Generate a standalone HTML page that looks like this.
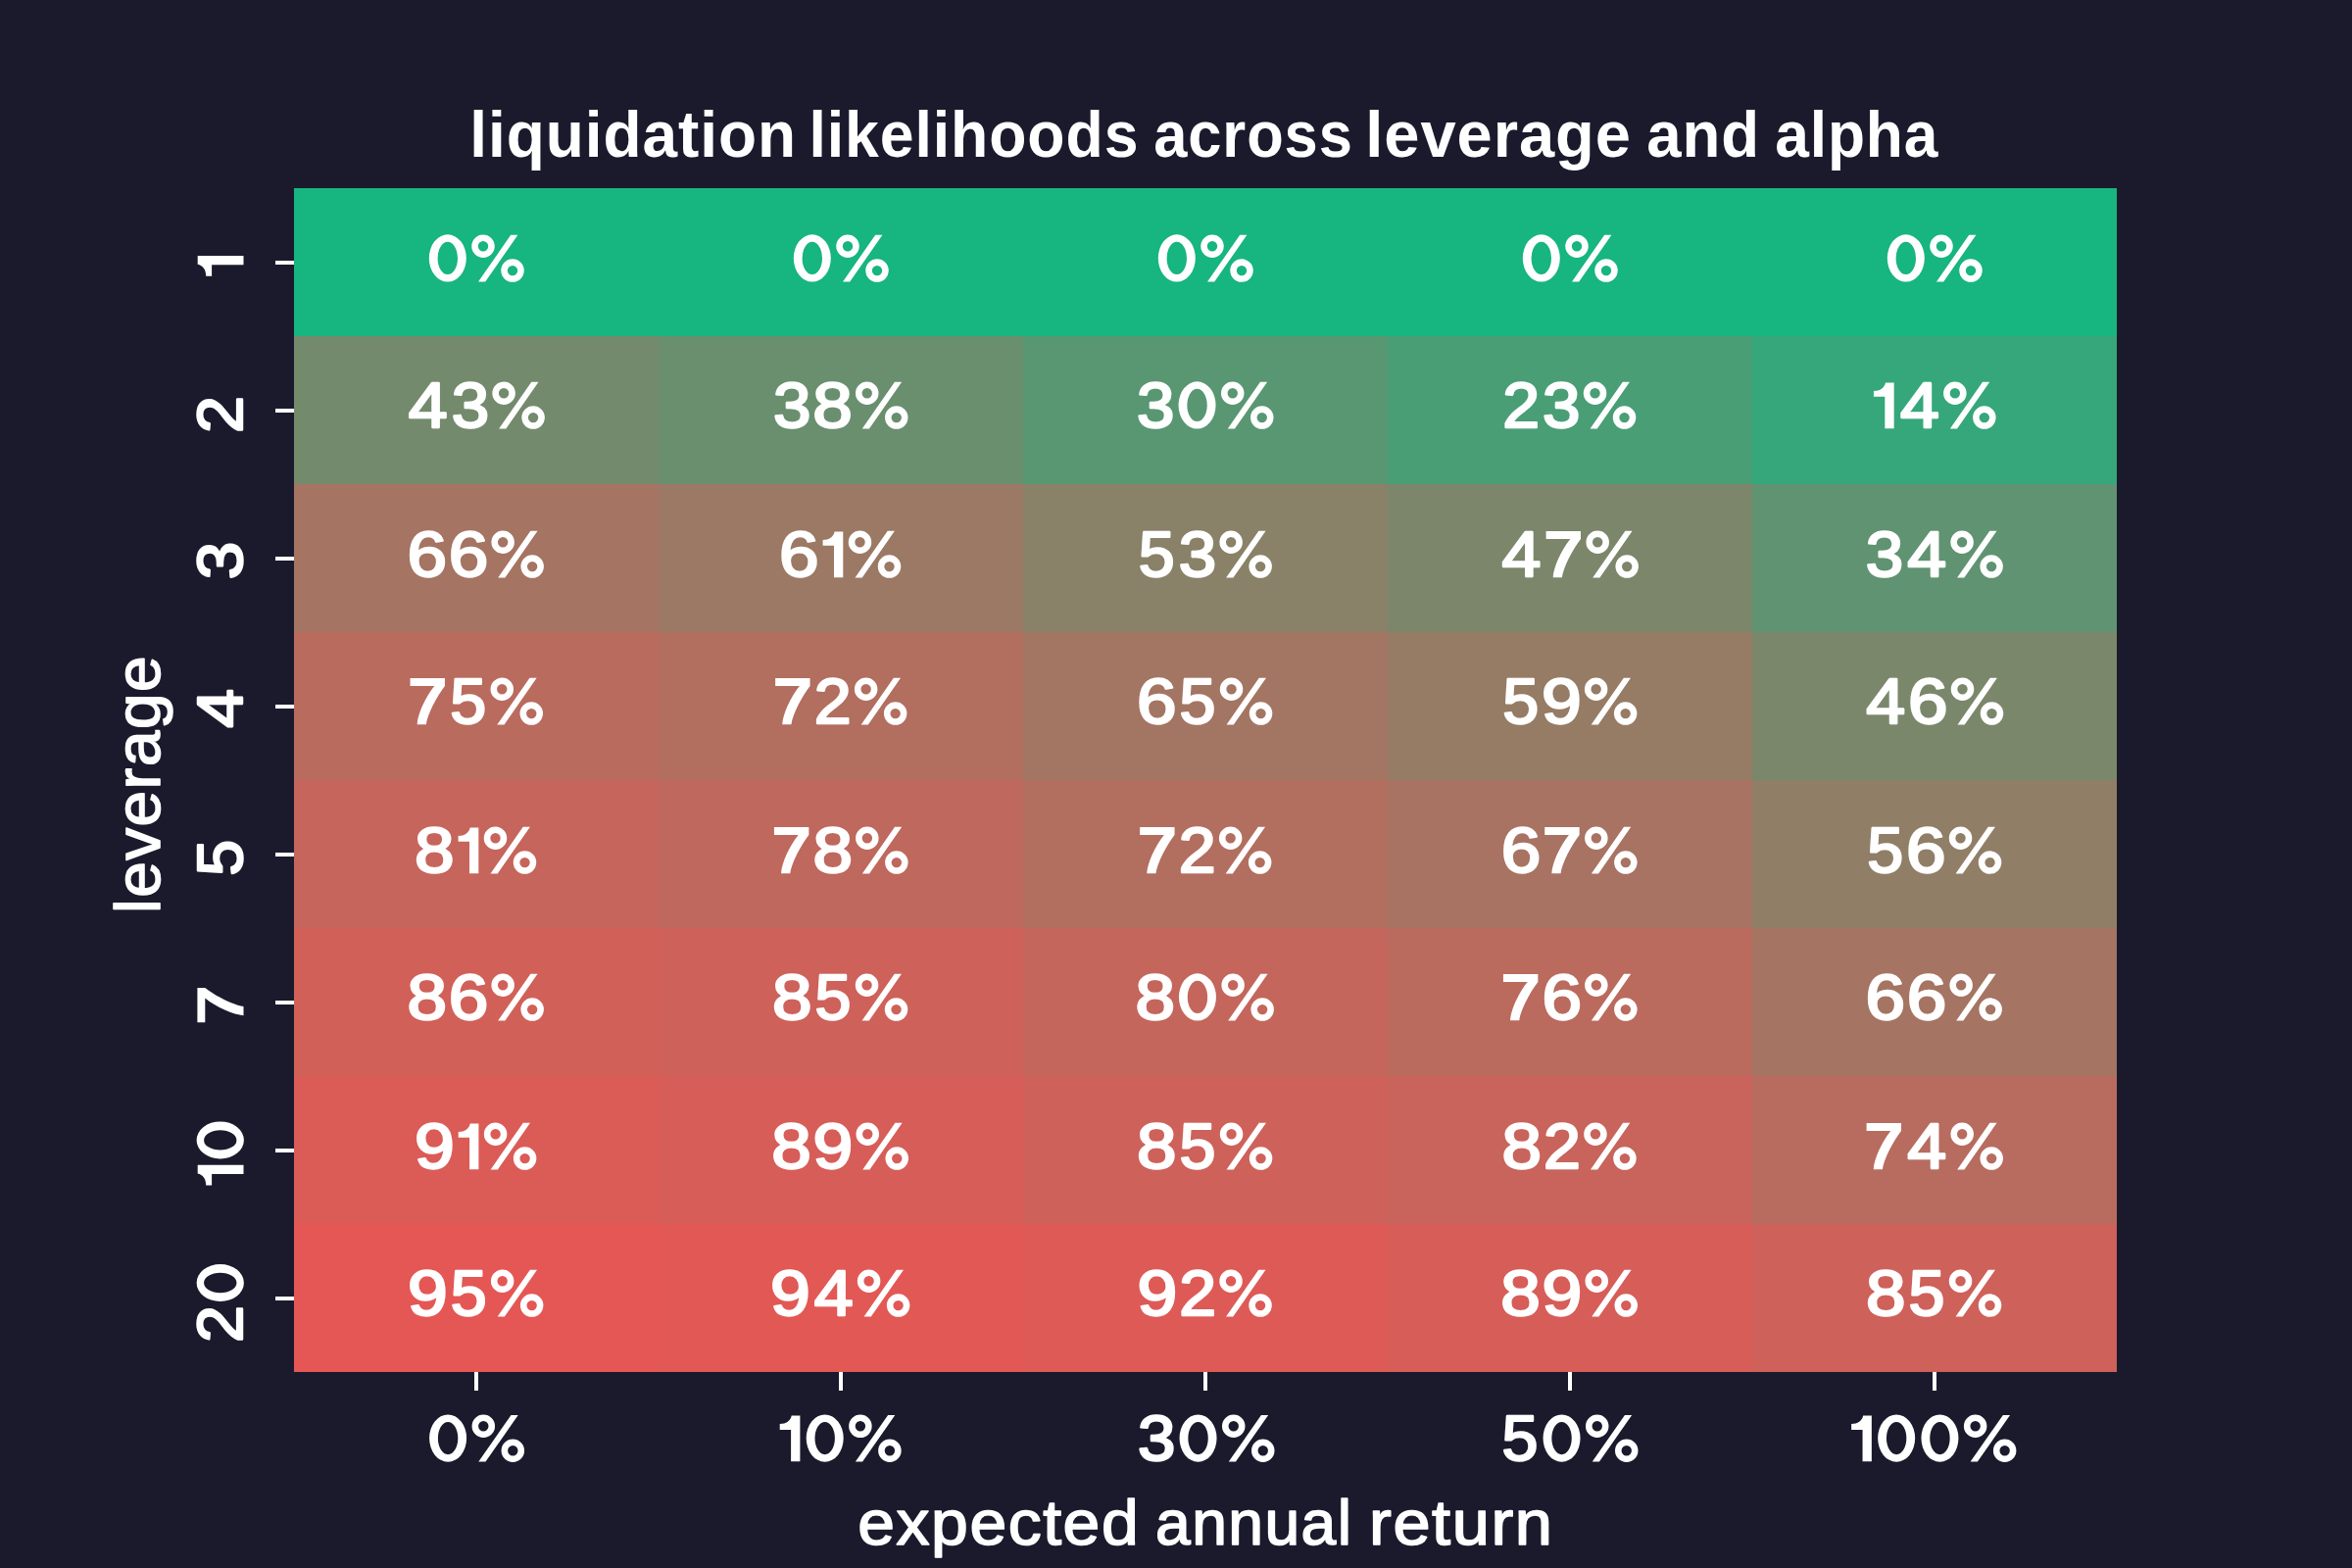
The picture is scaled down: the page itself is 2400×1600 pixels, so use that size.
<!DOCTYPE html>
<html><head><meta charset="utf-8"><title>liquidation likelihoods across leverage and alpha</title><style>
html,body{margin:0;padding:0;background:#1b1a2d;width:2400px;height:1600px;overflow:hidden}
svg{display:block}
rect,path{fill:#fff}
path{fill-rule:evenodd}
text{font-family:"Liberation Sans",sans-serif;fill:#fff;stroke:#fff;stroke-linejoin:round}
.a{font-weight:400;font-size:64.8px;stroke-width:2.4px}
.t{font-weight:700;font-size:68.3px;stroke-width:0px;letter-spacing:1.0px}
.l{font-weight:400;font-size:66.5px;stroke-width:1.6px;letter-spacing:1.5px}
</style></head><body>
<svg width="2400" height="1600" viewBox="0 0 2400 1600">
<rect width="2400" height="1600" style="fill:#1b1a2d"/>
<rect x="300" y="192" width="372" height="151" style="fill:#17b580"/>
<rect x="672" y="192" width="372" height="151" style="fill:#17b580"/>
<rect x="1044" y="192" width="372" height="151" style="fill:#17b580"/>
<rect x="1416" y="192" width="372" height="151" style="fill:#17b580"/>
<rect x="1788" y="192" width="372" height="151" style="fill:#17b580"/>
<rect x="300" y="343" width="372" height="151" style="fill:#748a6d"/>
<rect x="672" y="343" width="372" height="151" style="fill:#698f6f"/>
<rect x="1044" y="343" width="372" height="151" style="fill:#589772"/>
<rect x="1416" y="343" width="372" height="151" style="fill:#499e76"/>
<rect x="1788" y="343" width="372" height="151" style="fill:#35a77a"/>
<rect x="300" y="494" width="372" height="151" style="fill:#a57462"/>
<rect x="672" y="494" width="372" height="151" style="fill:#9b7964"/>
<rect x="1044" y="494" width="372" height="151" style="fill:#898168"/>
<rect x="1416" y="494" width="372" height="151" style="fill:#7c866b"/>
<rect x="1788" y="494" width="372" height="151" style="fill:#609371"/>
<rect x="300" y="645" width="372" height="151" style="fill:#b96b5e"/>
<rect x="672" y="645" width="372" height="151" style="fill:#b26e5f"/>
<rect x="1044" y="645" width="372" height="151" style="fill:#a37563"/>
<rect x="1416" y="645" width="372" height="151" style="fill:#967b65"/>
<rect x="1788" y="645" width="372" height="151" style="fill:#7a876b"/>
<rect x="300" y="796" width="372" height="151" style="fill:#c6655b"/>
<rect x="672" y="796" width="372" height="151" style="fill:#bf685d"/>
<rect x="1044" y="796" width="372" height="151" style="fill:#b26e5f"/>
<rect x="1416" y="796" width="372" height="151" style="fill:#a87362"/>
<rect x="1788" y="796" width="372" height="151" style="fill:#907e67"/>
<rect x="300" y="947" width="372" height="151" style="fill:#d16059"/>
<rect x="672" y="947" width="372" height="151" style="fill:#ce615a"/>
<rect x="1044" y="947" width="372" height="151" style="fill:#c4665c"/>
<rect x="1416" y="947" width="372" height="151" style="fill:#bb6a5e"/>
<rect x="1788" y="947" width="372" height="151" style="fill:#a57462"/>
<rect x="300" y="1098" width="372" height="151" style="fill:#db5b57"/>
<rect x="672" y="1098" width="372" height="151" style="fill:#d75d58"/>
<rect x="1044" y="1098" width="372" height="151" style="fill:#ce615a"/>
<rect x="1416" y="1098" width="372" height="151" style="fill:#c8645b"/>
<rect x="1788" y="1098" width="372" height="151" style="fill:#b76c5f"/>
<rect x="300" y="1249" width="372" height="151" style="fill:#e45755"/>
<rect x="672" y="1249" width="372" height="151" style="fill:#e25855"/>
<rect x="1044" y="1249" width="372" height="151" style="fill:#de5a56"/>
<rect x="1416" y="1249" width="372" height="151" style="fill:#d75d58"/>
<rect x="1788" y="1249" width="372" height="151" style="fill:#ce615a"/>
<rect x="281" y="266.0" width="19" height="4"/>
<rect x="281" y="417.0" width="19" height="4"/>
<rect x="281" y="568.0" width="19" height="4"/>
<rect x="281" y="719.0" width="19" height="4"/>
<rect x="281" y="870.0" width="19" height="4"/>
<rect x="281" y="1021.0" width="19" height="4"/>
<rect x="281" y="1172.0" width="19" height="4"/>
<rect x="281" y="1323.0" width="19" height="4"/>
<rect x="484.0" y="1400" width="4" height="19"/>
<rect x="856.0" y="1400" width="4" height="19"/>
<rect x="1228.0" y="1400" width="4" height="19"/>
<rect x="1600.0" y="1400" width="4" height="19"/>
<rect x="1972.0" y="1400" width="4" height="19"/>
<path d="M437.8 263.45a19 24.15 0 1 0 38 0a19 24.15 0 1 0 -38 0zM446.6 263.45a10.2 16.65 0 1 0 20.4 0a10.2 16.65 0 1 0 -20.4 0z"/>
<path d="M481.25 251.2a11.75 11.75 0 1 0 23.5 0a11.75 11.75 0 1 0 -23.5 0zM487.8 251.2a5.2 5.2 0 1 0 10.4 0a5.2 5.2 0 1 0 -10.4 0zM511.25 276.1a11.75 11.75 0 1 0 23.5 0a11.75 11.75 0 1 0 -23.5 0zM517.8 276.1a5.2 5.2 0 1 0 10.4 0a5.2 5.2 0 1 0 -10.4 0zM488 287.5H495.2L528.4 239.8H521.2z"/>
<path d="M809.8 263.45a19 24.15 0 1 0 38 0a19 24.15 0 1 0 -38 0zM818.6 263.45a10.2 16.65 0 1 0 20.4 0a10.2 16.65 0 1 0 -20.4 0z"/>
<path d="M853.25 251.2a11.75 11.75 0 1 0 23.5 0a11.75 11.75 0 1 0 -23.5 0zM859.8 251.2a5.2 5.2 0 1 0 10.4 0a5.2 5.2 0 1 0 -10.4 0zM883.25 276.1a11.75 11.75 0 1 0 23.5 0a11.75 11.75 0 1 0 -23.5 0zM889.8 276.1a5.2 5.2 0 1 0 10.4 0a5.2 5.2 0 1 0 -10.4 0zM860 287.5H867.2L900.4 239.8H893.2z"/>
<path d="M1181.8 263.45a19 24.15 0 1 0 38 0a19 24.15 0 1 0 -38 0zM1190.6 263.45a10.2 16.65 0 1 0 20.4 0a10.2 16.65 0 1 0 -20.4 0z"/>
<path d="M1225.25 251.2a11.75 11.75 0 1 0 23.5 0a11.75 11.75 0 1 0 -23.5 0zM1231.8 251.2a5.2 5.2 0 1 0 10.4 0a5.2 5.2 0 1 0 -10.4 0zM1255.25 276.1a11.75 11.75 0 1 0 23.5 0a11.75 11.75 0 1 0 -23.5 0zM1261.8 276.1a5.2 5.2 0 1 0 10.4 0a5.2 5.2 0 1 0 -10.4 0zM1232 287.5H1239.2L1272.4 239.8H1265.2z"/>
<path d="M1553.8 263.45a19 24.15 0 1 0 38 0a19 24.15 0 1 0 -38 0zM1562.6 263.45a10.2 16.65 0 1 0 20.4 0a10.2 16.65 0 1 0 -20.4 0z"/>
<path d="M1597.25 251.2a11.75 11.75 0 1 0 23.5 0a11.75 11.75 0 1 0 -23.5 0zM1603.8 251.2a5.2 5.2 0 1 0 10.4 0a5.2 5.2 0 1 0 -10.4 0zM1627.25 276.1a11.75 11.75 0 1 0 23.5 0a11.75 11.75 0 1 0 -23.5 0zM1633.8 276.1a5.2 5.2 0 1 0 10.4 0a5.2 5.2 0 1 0 -10.4 0zM1604 287.5H1611.2L1644.4 239.8H1637.2z"/>
<path d="M1925.8 263.45a19 24.15 0 1 0 38 0a19 24.15 0 1 0 -38 0zM1934.6 263.45a10.2 16.65 0 1 0 20.4 0a10.2 16.65 0 1 0 -20.4 0z"/>
<path d="M1969.25 251.2a11.75 11.75 0 1 0 23.5 0a11.75 11.75 0 1 0 -23.5 0zM1975.8 251.2a5.2 5.2 0 1 0 10.4 0a5.2 5.2 0 1 0 -10.4 0zM1999.25 276.1a11.75 11.75 0 1 0 23.5 0a11.75 11.75 0 1 0 -23.5 0zM2005.8 276.1a5.2 5.2 0 1 0 10.4 0a5.2 5.2 0 1 0 -10.4 0zM1976 287.5H1983.2L2016.4 239.8H2009.2z"/>
<text class="a" transform="translate(416.7 436) scale(1.1057 1)">4</text>
<text class="a" transform="translate(460.63 436) scale(1.0667 1)">3</text>
<path d="M502.35 401.2a11.75 11.75 0 1 0 23.5 0a11.75 11.75 0 1 0 -23.5 0zM508.9 401.2a5.2 5.2 0 1 0 10.4 0a5.2 5.2 0 1 0 -10.4 0zM532.35 426.1a11.75 11.75 0 1 0 23.5 0a11.75 11.75 0 1 0 -23.5 0zM538.9 426.1a5.2 5.2 0 1 0 10.4 0a5.2 5.2 0 1 0 -10.4 0zM509.1 437.5H516.3L549.5 389.8H542.3z"/>
<text class="a" transform="translate(788.98 436) scale(1.0667 1)">3</text>
<text class="a" transform="translate(829.3 436) scale(1.1250 1)">8</text>
<path d="M873 401.2a11.75 11.75 0 1 0 23.5 0a11.75 11.75 0 1 0 -23.5 0zM879.55 401.2a5.2 5.2 0 1 0 10.4 0a5.2 5.2 0 1 0 -10.4 0zM903 426.1a11.75 11.75 0 1 0 23.5 0a11.75 11.75 0 1 0 -23.5 0zM909.55 426.1a5.2 5.2 0 1 0 10.4 0a5.2 5.2 0 1 0 -10.4 0zM879.75 437.5H886.95L920.15 389.8H912.95z"/>
<text class="a" transform="translate(1159.98 436) scale(1.0667 1)">3</text>
<path d="M1202.55 413.45a19 24.15 0 1 0 38 0a19 24.15 0 1 0 -38 0zM1211.35 413.45a10.2 16.65 0 1 0 20.4 0a10.2 16.65 0 1 0 -20.4 0z"/>
<path d="M1246 401.2a11.75 11.75 0 1 0 23.5 0a11.75 11.75 0 1 0 -23.5 0zM1252.55 401.2a5.2 5.2 0 1 0 10.4 0a5.2 5.2 0 1 0 -10.4 0zM1276 426.1a11.75 11.75 0 1 0 23.5 0a11.75 11.75 0 1 0 -23.5 0zM1282.55 426.1a5.2 5.2 0 1 0 10.4 0a5.2 5.2 0 1 0 -10.4 0zM1252.75 437.5H1259.95L1293.15 389.8H1285.95z"/>
<text class="a" transform="translate(1533.15 436) scale(1.0500 1)">2</text>
<text class="a" transform="translate(1574.08 436) scale(1.0667 1)">3</text>
<path d="M1615.8 401.2a11.75 11.75 0 1 0 23.5 0a11.75 11.75 0 1 0 -23.5 0zM1622.35 401.2a5.2 5.2 0 1 0 10.4 0a5.2 5.2 0 1 0 -10.4 0zM1645.8 426.1a11.75 11.75 0 1 0 23.5 0a11.75 11.75 0 1 0 -23.5 0zM1652.35 426.1a5.2 5.2 0 1 0 10.4 0a5.2 5.2 0 1 0 -10.4 0zM1622.55 437.5H1629.75L1662.95 389.8H1655.75z"/>
<path d="M1923.35 437.2H1932.65V390.4H1923.95C1922.95 395.7 1918.45 398.9 1911.95 398.9V404.8H1923.35z"/>
<text class="a" transform="translate(1938.95 436) scale(1.1057 1)">4</text>
<path d="M1983.1 401.2a11.75 11.75 0 1 0 23.5 0a11.75 11.75 0 1 0 -23.5 0zM1989.65 401.2a5.2 5.2 0 1 0 10.4 0a5.2 5.2 0 1 0 -10.4 0zM2013.1 426.1a11.75 11.75 0 1 0 23.5 0a11.75 11.75 0 1 0 -23.5 0zM2019.65 426.1a5.2 5.2 0 1 0 10.4 0a5.2 5.2 0 1 0 -10.4 0zM1989.85 437.5H1997.05L2030.25 389.8H2023.05z"/>
<text class="a" transform="translate(415.4 588) scale(1.1250 1)">6</text>
<text class="a" transform="translate(457.7 588) scale(1.1250 1)">6</text>
<path d="M501.4 553.2a11.75 11.75 0 1 0 23.5 0a11.75 11.75 0 1 0 -23.5 0zM507.95 553.2a5.2 5.2 0 1 0 10.4 0a5.2 5.2 0 1 0 -10.4 0zM531.4 578.1a11.75 11.75 0 1 0 23.5 0a11.75 11.75 0 1 0 -23.5 0zM537.95 578.1a5.2 5.2 0 1 0 10.4 0a5.2 5.2 0 1 0 -10.4 0zM508.15 589.5H515.35L548.55 541.8H541.35z"/>
<text class="a" transform="translate(795.05 588) scale(1.1250 1)">6</text>
<path d="M851 589.2H860.3V542.4H851.6C850.6 547.7 846.1 550.9 839.6 550.9V556.8H851z"/>
<path d="M865.75 553.2a11.75 11.75 0 1 0 23.5 0a11.75 11.75 0 1 0 -23.5 0zM872.3 553.2a5.2 5.2 0 1 0 10.4 0a5.2 5.2 0 1 0 -10.4 0zM895.75 578.1a11.75 11.75 0 1 0 23.5 0a11.75 11.75 0 1 0 -23.5 0zM902.3 578.1a5.2 5.2 0 1 0 10.4 0a5.2 5.2 0 1 0 -10.4 0zM872.5 589.5H879.7L912.9 541.8H905.7z"/>
<text class="a" transform="translate(1161.63 588) scale(1.0235 1)">5</text>
<text class="a" transform="translate(1202.68 588) scale(1.0667 1)">3</text>
<path d="M1244.4 553.2a11.75 11.75 0 1 0 23.5 0a11.75 11.75 0 1 0 -23.5 0zM1250.95 553.2a5.2 5.2 0 1 0 10.4 0a5.2 5.2 0 1 0 -10.4 0zM1274.4 578.1a11.75 11.75 0 1 0 23.5 0a11.75 11.75 0 1 0 -23.5 0zM1280.95 578.1a5.2 5.2 0 1 0 10.4 0a5.2 5.2 0 1 0 -10.4 0zM1251.15 589.5H1258.35L1291.55 541.8H1284.35z"/>
<text class="a" transform="translate(1532.6 588) scale(1.1057 1)">4</text>
<path d="M1577.6 542.1H1613V550C1605 560 1595.1 579.2 1593.9 589.2H1584.7C1585.1 579.2 1593.1 561.2 1602.3 550H1577.6z"/>
<path d="M1618.45 553.2a11.75 11.75 0 1 0 23.5 0a11.75 11.75 0 1 0 -23.5 0zM1625 553.2a5.2 5.2 0 1 0 10.4 0a5.2 5.2 0 1 0 -10.4 0zM1648.45 578.1a11.75 11.75 0 1 0 23.5 0a11.75 11.75 0 1 0 -23.5 0zM1655 578.1a5.2 5.2 0 1 0 10.4 0a5.2 5.2 0 1 0 -10.4 0zM1625.2 589.5H1632.4L1665.6 541.8H1658.4z"/>
<text class="a" transform="translate(1903.63 588) scale(1.0667 1)">3</text>
<text class="a" transform="translate(1946.2 588) scale(1.1057 1)">4</text>
<path d="M1990.35 553.2a11.75 11.75 0 1 0 23.5 0a11.75 11.75 0 1 0 -23.5 0zM1996.9 553.2a5.2 5.2 0 1 0 10.4 0a5.2 5.2 0 1 0 -10.4 0zM2020.35 578.1a11.75 11.75 0 1 0 23.5 0a11.75 11.75 0 1 0 -23.5 0zM2026.9 578.1a5.2 5.2 0 1 0 10.4 0a5.2 5.2 0 1 0 -10.4 0zM1997.1 589.5H2004.3L2037.5 541.8H2030.3z"/>
<path d="M418.55 692.1H453.95V700C445.95 710 436.05 729.2 434.85 739.2H425.65C426.05 729.2 434.05 711.2 443.25 700H418.55z"/>
<text class="a" transform="translate(459.23 738) scale(1.0235 1)">5</text>
<path d="M500.5 703.2a11.75 11.75 0 1 0 23.5 0a11.75 11.75 0 1 0 -23.5 0zM507.05 703.2a5.2 5.2 0 1 0 10.4 0a5.2 5.2 0 1 0 -10.4 0zM530.5 728.1a11.75 11.75 0 1 0 23.5 0a11.75 11.75 0 1 0 -23.5 0zM537.05 728.1a5.2 5.2 0 1 0 10.4 0a5.2 5.2 0 1 0 -10.4 0zM507.25 739.5H514.45L547.65 691.8H540.45z"/>
<path d="M791.15 692.1H826.55V700C818.55 710 808.65 729.2 807.45 739.2H798.25C798.65 729.2 806.65 711.2 815.85 700H791.15z"/>
<text class="a" transform="translate(830.75 738) scale(1.0500 1)">2</text>
<path d="M871.9 703.2a11.75 11.75 0 1 0 23.5 0a11.75 11.75 0 1 0 -23.5 0zM878.45 703.2a5.2 5.2 0 1 0 10.4 0a5.2 5.2 0 1 0 -10.4 0zM901.9 728.1a11.75 11.75 0 1 0 23.5 0a11.75 11.75 0 1 0 -23.5 0zM908.45 728.1a5.2 5.2 0 1 0 10.4 0a5.2 5.2 0 1 0 -10.4 0zM878.65 739.5H885.85L919.05 691.8H911.85z"/>
<text class="a" transform="translate(1160 738) scale(1.1250 1)">6</text>
<text class="a" transform="translate(1203.53 738) scale(1.0235 1)">5</text>
<path d="M1244.8 703.2a11.75 11.75 0 1 0 23.5 0a11.75 11.75 0 1 0 -23.5 0zM1251.35 703.2a5.2 5.2 0 1 0 10.4 0a5.2 5.2 0 1 0 -10.4 0zM1274.8 728.1a11.75 11.75 0 1 0 23.5 0a11.75 11.75 0 1 0 -23.5 0zM1281.35 728.1a5.2 5.2 0 1 0 10.4 0a5.2 5.2 0 1 0 -10.4 0zM1251.55 739.5H1258.75L1291.95 691.8H1284.75z"/>
<text class="a" transform="translate(1533.13 738) scale(1.0235 1)">5</text>
<text class="a" transform="translate(1572.99 738) scale(1.1313 1)">9</text>
<path d="M1616.9 703.2a11.75 11.75 0 1 0 23.5 0a11.75 11.75 0 1 0 -23.5 0zM1623.45 703.2a5.2 5.2 0 1 0 10.4 0a5.2 5.2 0 1 0 -10.4 0zM1646.9 728.1a11.75 11.75 0 1 0 23.5 0a11.75 11.75 0 1 0 -23.5 0zM1653.45 728.1a5.2 5.2 0 1 0 10.4 0a5.2 5.2 0 1 0 -10.4 0zM1623.65 739.5H1630.85L1664.05 691.8H1656.85z"/>
<text class="a" transform="translate(1904.3 738) scale(1.1057 1)">4</text>
<text class="a" transform="translate(1947.05 738) scale(1.1250 1)">6</text>
<path d="M1990.75 703.2a11.75 11.75 0 1 0 23.5 0a11.75 11.75 0 1 0 -23.5 0zM1997.3 703.2a5.2 5.2 0 1 0 10.4 0a5.2 5.2 0 1 0 -10.4 0zM2020.75 728.1a11.75 11.75 0 1 0 23.5 0a11.75 11.75 0 1 0 -23.5 0zM2027.3 728.1a5.2 5.2 0 1 0 10.4 0a5.2 5.2 0 1 0 -10.4 0zM1997.5 739.5H2004.7L2037.9 691.8H2030.7z"/>
<text class="a" transform="translate(423.05 890) scale(1.1250 1)">8</text>
<path d="M479 891.2H488.3V844.4H479.6C478.6 849.7 474.1 852.9 467.6 852.9V858.8H479z"/>
<path d="M493.75 855.2a11.75 11.75 0 1 0 23.5 0a11.75 11.75 0 1 0 -23.5 0zM500.3 855.2a5.2 5.2 0 1 0 10.4 0a5.2 5.2 0 1 0 -10.4 0zM523.75 880.1a11.75 11.75 0 1 0 23.5 0a11.75 11.75 0 1 0 -23.5 0zM530.3 880.1a5.2 5.2 0 1 0 10.4 0a5.2 5.2 0 1 0 -10.4 0zM500.5 891.5H507.7L540.9 843.8H533.7z"/>
<path d="M789.95 844.1H825.35V852C817.35 862 807.45 881.2 806.25 891.2H797.05C797.45 881.2 805.45 863.2 814.65 852H789.95z"/>
<text class="a" transform="translate(829.4 890) scale(1.1250 1)">8</text>
<path d="M873.1 855.2a11.75 11.75 0 1 0 23.5 0a11.75 11.75 0 1 0 -23.5 0zM879.65 855.2a5.2 5.2 0 1 0 10.4 0a5.2 5.2 0 1 0 -10.4 0zM903.1 880.1a11.75 11.75 0 1 0 23.5 0a11.75 11.75 0 1 0 -23.5 0zM909.65 880.1a5.2 5.2 0 1 0 10.4 0a5.2 5.2 0 1 0 -10.4 0zM879.85 891.5H887.05L920.25 843.8H913.05z"/>
<path d="M1163.15 844.1H1198.55V852C1190.55 862 1180.65 881.2 1179.45 891.2H1170.25C1170.65 881.2 1178.65 863.2 1187.85 852H1163.15z"/>
<text class="a" transform="translate(1202.75 890) scale(1.0500 1)">2</text>
<path d="M1243.9 855.2a11.75 11.75 0 1 0 23.5 0a11.75 11.75 0 1 0 -23.5 0zM1250.45 855.2a5.2 5.2 0 1 0 10.4 0a5.2 5.2 0 1 0 -10.4 0zM1273.9 880.1a11.75 11.75 0 1 0 23.5 0a11.75 11.75 0 1 0 -23.5 0zM1280.45 880.1a5.2 5.2 0 1 0 10.4 0a5.2 5.2 0 1 0 -10.4 0zM1250.65 891.5H1257.85L1291.05 843.8H1283.85z"/>
<text class="a" transform="translate(1531.7 890) scale(1.1250 1)">6</text>
<path d="M1576.25 844.1H1611.65V852C1603.65 862 1593.75 881.2 1592.55 891.2H1583.35C1583.75 881.2 1591.75 863.2 1600.95 852H1576.25z"/>
<path d="M1617.1 855.2a11.75 11.75 0 1 0 23.5 0a11.75 11.75 0 1 0 -23.5 0zM1623.65 855.2a5.2 5.2 0 1 0 10.4 0a5.2 5.2 0 1 0 -10.4 0zM1647.1 880.1a11.75 11.75 0 1 0 23.5 0a11.75 11.75 0 1 0 -23.5 0zM1653.65 880.1a5.2 5.2 0 1 0 10.4 0a5.2 5.2 0 1 0 -10.4 0zM1623.85 891.5H1631.05L1664.25 843.8H1657.05z"/>
<text class="a" transform="translate(1905.23 890) scale(1.0235 1)">5</text>
<text class="a" transform="translate(1945.1 890) scale(1.1250 1)">6</text>
<path d="M1988.8 855.2a11.75 11.75 0 1 0 23.5 0a11.75 11.75 0 1 0 -23.5 0zM1995.35 855.2a5.2 5.2 0 1 0 10.4 0a5.2 5.2 0 1 0 -10.4 0zM2018.8 880.1a11.75 11.75 0 1 0 23.5 0a11.75 11.75 0 1 0 -23.5 0zM2025.35 880.1a5.2 5.2 0 1 0 10.4 0a5.2 5.2 0 1 0 -10.4 0zM1995.55 891.5H2002.75L2035.95 843.8H2028.75z"/>
<text class="a" transform="translate(415.4 1040) scale(1.1250 1)">8</text>
<text class="a" transform="translate(457.7 1040) scale(1.1250 1)">6</text>
<path d="M501.4 1005.2a11.75 11.75 0 1 0 23.5 0a11.75 11.75 0 1 0 -23.5 0zM507.95 1005.2a5.2 5.2 0 1 0 10.4 0a5.2 5.2 0 1 0 -10.4 0zM531.4 1030.1a11.75 11.75 0 1 0 23.5 0a11.75 11.75 0 1 0 -23.5 0zM537.95 1030.1a5.2 5.2 0 1 0 10.4 0a5.2 5.2 0 1 0 -10.4 0zM508.15 1041.5H515.35L548.55 993.8H541.35z"/>
<text class="a" transform="translate(788 1040) scale(1.1250 1)">8</text>
<text class="a" transform="translate(831.53 1040) scale(1.0235 1)">5</text>
<path d="M872.8 1005.2a11.75 11.75 0 1 0 23.5 0a11.75 11.75 0 1 0 -23.5 0zM879.35 1005.2a5.2 5.2 0 1 0 10.4 0a5.2 5.2 0 1 0 -10.4 0zM902.8 1030.1a11.75 11.75 0 1 0 23.5 0a11.75 11.75 0 1 0 -23.5 0zM909.35 1030.1a5.2 5.2 0 1 0 10.4 0a5.2 5.2 0 1 0 -10.4 0zM879.55 1041.5H886.75L919.95 993.8H912.75z"/>
<text class="a" transform="translate(1158.4 1040) scale(1.1250 1)">8</text>
<path d="M1202.95 1017.45a19 24.15 0 1 0 38 0a19 24.15 0 1 0 -38 0zM1211.75 1017.45a10.2 16.65 0 1 0 20.4 0a10.2 16.65 0 1 0 -20.4 0z"/>
<path d="M1246.4 1005.2a11.75 11.75 0 1 0 23.5 0a11.75 11.75 0 1 0 -23.5 0zM1252.95 1005.2a5.2 5.2 0 1 0 10.4 0a5.2 5.2 0 1 0 -10.4 0zM1276.4 1030.1a11.75 11.75 0 1 0 23.5 0a11.75 11.75 0 1 0 -23.5 0zM1282.95 1030.1a5.2 5.2 0 1 0 10.4 0a5.2 5.2 0 1 0 -10.4 0zM1253.15 1041.5H1260.35L1293.55 993.8H1286.35z"/>
<path d="M1533.95 994.1H1569.35V1002C1561.35 1012 1551.45 1031.2 1550.25 1041.2H1541.05C1541.45 1031.2 1549.45 1013.2 1558.65 1002H1533.95z"/>
<text class="a" transform="translate(1573.4 1040) scale(1.1250 1)">6</text>
<path d="M1617.1 1005.2a11.75 11.75 0 1 0 23.5 0a11.75 11.75 0 1 0 -23.5 0zM1623.65 1005.2a5.2 5.2 0 1 0 10.4 0a5.2 5.2 0 1 0 -10.4 0zM1647.1 1030.1a11.75 11.75 0 1 0 23.5 0a11.75 11.75 0 1 0 -23.5 0zM1653.65 1030.1a5.2 5.2 0 1 0 10.4 0a5.2 5.2 0 1 0 -10.4 0zM1623.85 1041.5H1631.05L1664.25 993.8H1657.05z"/>
<text class="a" transform="translate(1903.4 1040) scale(1.1250 1)">6</text>
<text class="a" transform="translate(1945.7 1040) scale(1.1250 1)">6</text>
<path d="M1989.4 1005.2a11.75 11.75 0 1 0 23.5 0a11.75 11.75 0 1 0 -23.5 0zM1995.95 1005.2a5.2 5.2 0 1 0 10.4 0a5.2 5.2 0 1 0 -10.4 0zM2019.4 1030.1a11.75 11.75 0 1 0 23.5 0a11.75 11.75 0 1 0 -23.5 0zM2025.95 1030.1a5.2 5.2 0 1 0 10.4 0a5.2 5.2 0 1 0 -10.4 0zM1996.15 1041.5H2003.35L2036.55 993.8H2029.35z"/>
<text class="a" transform="translate(422.94 1192) scale(1.1313 1)">9</text>
<path d="M479.1 1193.2H488.4V1146.4H479.7C478.7 1151.7 474.2 1154.9 467.7 1154.9V1160.8H479.1z"/>
<path d="M493.85 1157.2a11.75 11.75 0 1 0 23.5 0a11.75 11.75 0 1 0 -23.5 0zM500.4 1157.2a5.2 5.2 0 1 0 10.4 0a5.2 5.2 0 1 0 -10.4 0zM523.85 1182.1a11.75 11.75 0 1 0 23.5 0a11.75 11.75 0 1 0 -23.5 0zM530.4 1182.1a5.2 5.2 0 1 0 10.4 0a5.2 5.2 0 1 0 -10.4 0zM500.6 1193.5H507.8L541 1145.8H533.8z"/>
<text class="a" transform="translate(787.3 1192) scale(1.1250 1)">8</text>
<text class="a" transform="translate(829.59 1192) scale(1.1313 1)">9</text>
<path d="M873.5 1157.2a11.75 11.75 0 1 0 23.5 0a11.75 11.75 0 1 0 -23.5 0zM880.05 1157.2a5.2 5.2 0 1 0 10.4 0a5.2 5.2 0 1 0 -10.4 0zM903.5 1182.1a11.75 11.75 0 1 0 23.5 0a11.75 11.75 0 1 0 -23.5 0zM910.05 1182.1a5.2 5.2 0 1 0 10.4 0a5.2 5.2 0 1 0 -10.4 0zM880.25 1193.5H887.45L920.65 1145.8H913.45z"/>
<text class="a" transform="translate(1160 1192) scale(1.1250 1)">8</text>
<text class="a" transform="translate(1203.53 1192) scale(1.0235 1)">5</text>
<path d="M1244.8 1157.2a11.75 11.75 0 1 0 23.5 0a11.75 11.75 0 1 0 -23.5 0zM1251.35 1157.2a5.2 5.2 0 1 0 10.4 0a5.2 5.2 0 1 0 -10.4 0zM1274.8 1182.1a11.75 11.75 0 1 0 23.5 0a11.75 11.75 0 1 0 -23.5 0zM1281.35 1182.1a5.2 5.2 0 1 0 10.4 0a5.2 5.2 0 1 0 -10.4 0zM1251.55 1193.5H1258.75L1291.95 1145.8H1284.75z"/>
<text class="a" transform="translate(1532.6 1192) scale(1.1250 1)">8</text>
<text class="a" transform="translate(1575.05 1192) scale(1.0500 1)">2</text>
<path d="M1616.2 1157.2a11.75 11.75 0 1 0 23.5 0a11.75 11.75 0 1 0 -23.5 0zM1622.75 1157.2a5.2 5.2 0 1 0 10.4 0a5.2 5.2 0 1 0 -10.4 0zM1646.2 1182.1a11.75 11.75 0 1 0 23.5 0a11.75 11.75 0 1 0 -23.5 0zM1652.75 1182.1a5.2 5.2 0 1 0 10.4 0a5.2 5.2 0 1 0 -10.4 0zM1622.95 1193.5H1630.15L1663.35 1145.8H1656.15z"/>
<path d="M1904.6 1146.1H1940V1154C1932 1164 1922.1 1183.2 1920.9 1193.2H1911.7C1912.1 1183.2 1920.1 1165.2 1929.3 1154H1904.6z"/>
<text class="a" transform="translate(1946.3 1192) scale(1.1057 1)">4</text>
<path d="M1990.45 1157.2a11.75 11.75 0 1 0 23.5 0a11.75 11.75 0 1 0 -23.5 0zM1997 1157.2a5.2 5.2 0 1 0 10.4 0a5.2 5.2 0 1 0 -10.4 0zM2020.45 1182.1a11.75 11.75 0 1 0 23.5 0a11.75 11.75 0 1 0 -23.5 0zM2027 1182.1a5.2 5.2 0 1 0 10.4 0a5.2 5.2 0 1 0 -10.4 0zM1997.2 1193.5H2004.4L2037.6 1145.8H2030.4z"/>
<text class="a" transform="translate(415.89 1342) scale(1.1313 1)">9</text>
<text class="a" transform="translate(459.63 1342) scale(1.0235 1)">5</text>
<path d="M500.9 1307.2a11.75 11.75 0 1 0 23.5 0a11.75 11.75 0 1 0 -23.5 0zM507.45 1307.2a5.2 5.2 0 1 0 10.4 0a5.2 5.2 0 1 0 -10.4 0zM530.9 1332.1a11.75 11.75 0 1 0 23.5 0a11.75 11.75 0 1 0 -23.5 0zM537.45 1332.1a5.2 5.2 0 1 0 10.4 0a5.2 5.2 0 1 0 -10.4 0zM507.65 1343.5H514.85L548.05 1295.8H540.85z"/>
<text class="a" transform="translate(785.94 1342) scale(1.1313 1)">9</text>
<text class="a" transform="translate(830.7 1342) scale(1.1057 1)">4</text>
<path d="M874.85 1307.2a11.75 11.75 0 1 0 23.5 0a11.75 11.75 0 1 0 -23.5 0zM881.4 1307.2a5.2 5.2 0 1 0 10.4 0a5.2 5.2 0 1 0 -10.4 0zM904.85 1332.1a11.75 11.75 0 1 0 23.5 0a11.75 11.75 0 1 0 -23.5 0zM911.4 1332.1a5.2 5.2 0 1 0 10.4 0a5.2 5.2 0 1 0 -10.4 0zM881.6 1343.5H888.8L922 1295.8H914.8z"/>
<text class="a" transform="translate(1160.49 1342) scale(1.1313 1)">9</text>
<text class="a" transform="translate(1203.15 1342) scale(1.0500 1)">2</text>
<path d="M1244.3 1307.2a11.75 11.75 0 1 0 23.5 0a11.75 11.75 0 1 0 -23.5 0zM1250.85 1307.2a5.2 5.2 0 1 0 10.4 0a5.2 5.2 0 1 0 -10.4 0zM1274.3 1332.1a11.75 11.75 0 1 0 23.5 0a11.75 11.75 0 1 0 -23.5 0zM1280.85 1332.1a5.2 5.2 0 1 0 10.4 0a5.2 5.2 0 1 0 -10.4 0zM1251.05 1343.5H1258.25L1291.45 1295.8H1284.25z"/>
<text class="a" transform="translate(1531.3 1342) scale(1.1250 1)">8</text>
<text class="a" transform="translate(1573.59 1342) scale(1.1313 1)">9</text>
<path d="M1617.5 1307.2a11.75 11.75 0 1 0 23.5 0a11.75 11.75 0 1 0 -23.5 0zM1624.05 1307.2a5.2 5.2 0 1 0 10.4 0a5.2 5.2 0 1 0 -10.4 0zM1647.5 1332.1a11.75 11.75 0 1 0 23.5 0a11.75 11.75 0 1 0 -23.5 0zM1654.05 1332.1a5.2 5.2 0 1 0 10.4 0a5.2 5.2 0 1 0 -10.4 0zM1624.25 1343.5H1631.45L1664.65 1295.8H1657.45z"/>
<text class="a" transform="translate(1904 1342) scale(1.1250 1)">8</text>
<text class="a" transform="translate(1947.53 1342) scale(1.0235 1)">5</text>
<path d="M1988.8 1307.2a11.75 11.75 0 1 0 23.5 0a11.75 11.75 0 1 0 -23.5 0zM1995.35 1307.2a5.2 5.2 0 1 0 10.4 0a5.2 5.2 0 1 0 -10.4 0zM2018.8 1332.1a11.75 11.75 0 1 0 23.5 0a11.75 11.75 0 1 0 -23.5 0zM2025.35 1332.1a5.2 5.2 0 1 0 10.4 0a5.2 5.2 0 1 0 -10.4 0zM1995.55 1343.5H2002.75L2035.95 1295.8H2028.75z"/>
<path d="M438.1 1467.55a19 24.15 0 1 0 38 0a19 24.15 0 1 0 -38 0zM446.9 1467.55a10.2 16.65 0 1 0 20.4 0a10.2 16.65 0 1 0 -20.4 0z"/>
<path d="M481.55 1455.3a11.75 11.75 0 1 0 23.5 0a11.75 11.75 0 1 0 -23.5 0zM488.1 1455.3a5.2 5.2 0 1 0 10.4 0a5.2 5.2 0 1 0 -10.4 0zM511.55 1480.2a11.75 11.75 0 1 0 23.5 0a11.75 11.75 0 1 0 -23.5 0zM518.1 1480.2a5.2 5.2 0 1 0 10.4 0a5.2 5.2 0 1 0 -10.4 0zM488.3 1491.6H495.5L528.7 1443.9H521.5z"/>
<path d="M807.1 1491.3H816.4V1444.5H807.7C806.7 1449.8 802.2 1453 795.7 1453V1458.9H807.1z"/>
<path d="M822.7 1467.55a19 24.15 0 1 0 38 0a19 24.15 0 1 0 -38 0zM831.5 1467.55a10.2 16.65 0 1 0 20.4 0a10.2 16.65 0 1 0 -20.4 0z"/>
<path d="M866.15 1455.3a11.75 11.75 0 1 0 23.5 0a11.75 11.75 0 1 0 -23.5 0zM872.7 1455.3a5.2 5.2 0 1 0 10.4 0a5.2 5.2 0 1 0 -10.4 0zM896.15 1480.2a11.75 11.75 0 1 0 23.5 0a11.75 11.75 0 1 0 -23.5 0zM902.7 1480.2a5.2 5.2 0 1 0 10.4 0a5.2 5.2 0 1 0 -10.4 0zM872.9 1491.6H880.1L913.3 1443.9H906.1z"/>
<text class="a" transform="translate(1160.98 1490.1) scale(1.0667 1)">3</text>
<path d="M1203.55 1467.55a19 24.15 0 1 0 38 0a19 24.15 0 1 0 -38 0zM1212.35 1467.55a10.2 16.65 0 1 0 20.4 0a10.2 16.65 0 1 0 -20.4 0z"/>
<path d="M1247 1455.3a11.75 11.75 0 1 0 23.5 0a11.75 11.75 0 1 0 -23.5 0zM1253.55 1455.3a5.2 5.2 0 1 0 10.4 0a5.2 5.2 0 1 0 -10.4 0zM1277 1480.2a11.75 11.75 0 1 0 23.5 0a11.75 11.75 0 1 0 -23.5 0zM1283.55 1480.2a5.2 5.2 0 1 0 10.4 0a5.2 5.2 0 1 0 -10.4 0zM1253.75 1491.6H1260.95L1294.15 1443.9H1286.95z"/>
<text class="a" transform="translate(1532.43 1490.1) scale(1.0235 1)">5</text>
<path d="M1574.55 1467.55a19 24.15 0 1 0 38 0a19 24.15 0 1 0 -38 0zM1583.35 1467.55a10.2 16.65 0 1 0 20.4 0a10.2 16.65 0 1 0 -20.4 0z"/>
<path d="M1618 1455.3a11.75 11.75 0 1 0 23.5 0a11.75 11.75 0 1 0 -23.5 0zM1624.55 1455.3a5.2 5.2 0 1 0 10.4 0a5.2 5.2 0 1 0 -10.4 0zM1648 1480.2a11.75 11.75 0 1 0 23.5 0a11.75 11.75 0 1 0 -23.5 0zM1654.55 1480.2a5.2 5.2 0 1 0 10.4 0a5.2 5.2 0 1 0 -10.4 0zM1624.75 1491.6H1631.95L1665.15 1443.9H1657.95z"/>
<path d="M1900.55 1491.3H1909.85V1444.5H1901.15C1900.15 1449.8 1895.65 1453 1889.15 1453V1458.9H1900.55z"/>
<path d="M1916.15 1467.55a19 24.15 0 1 0 38 0a19 24.15 0 1 0 -38 0zM1924.95 1467.55a10.2 16.65 0 1 0 20.4 0a10.2 16.65 0 1 0 -20.4 0z"/>
<path d="M1960.45 1467.55a19 24.15 0 1 0 38 0a19 24.15 0 1 0 -38 0zM1969.25 1467.55a10.2 16.65 0 1 0 20.4 0a10.2 16.65 0 1 0 -20.4 0z"/>
<path d="M2003.9 1455.3a11.75 11.75 0 1 0 23.5 0a11.75 11.75 0 1 0 -23.5 0zM2010.45 1455.3a5.2 5.2 0 1 0 10.4 0a5.2 5.2 0 1 0 -10.4 0zM2033.9 1480.2a11.75 11.75 0 1 0 23.5 0a11.75 11.75 0 1 0 -23.5 0zM2040.45 1480.2a5.2 5.2 0 1 0 10.4 0a5.2 5.2 0 1 0 -10.4 0zM2010.65 1491.6H2017.85L2051.05 1443.9H2043.85z"/>
<g transform="translate(248.5 0) rotate(-90)"><path d="M-270.35 0H-261.05V-46.8H-269.75C-270.75 -41.5 -275.25 -38.3 -281.75 -38.3V-32.4H-270.35z"/></g>
<g transform="translate(248.5 0) rotate(-90)"><text class="a" transform="translate(-441.9 -1.2) scale(1.0500 1)">2</text></g>
<g transform="translate(248.5 0) rotate(-90)"><text class="a" transform="translate(-591.17 -1.2) scale(1.0667 1)">3</text></g>
<g transform="translate(248.5 0) rotate(-90)"><text class="a" transform="translate(-742.75 -1.2) scale(1.1057 1)">4</text></g>
<g transform="translate(248.5 0) rotate(-90)"><text class="a" transform="translate(-893.72 -1.2) scale(1.0235 1)">5</text></g>
<g transform="translate(248.5 0) rotate(-90)"><path d="M-1043.3 -47.1H-1007.9V-39.2C-1015.9 -29.2 -1025.8 -10 -1027 0H-1036.2C-1035.8 -10 -1027.8 -28 -1018.6 -39.2H-1043.3z"/></g>
<g transform="translate(248.5 0) rotate(-90)"><path d="M-1198 0H-1188.7V-46.8H-1197.4C-1198.4 -41.5 -1202.9 -38.3 -1209.4 -38.3V-32.4H-1198z"/><path d="M-1182.4 -23.75a19 24.15 0 1 0 38 0a19 24.15 0 1 0 -38 0zM-1173.6 -23.75a10.2 16.65 0 1 0 20.4 0a10.2 16.65 0 1 0 -20.4 0z"/></g>
<g transform="translate(248.5 0) rotate(-90)"><text class="a" transform="translate(-1370.05 -1.2) scale(1.0500 1)">2</text><path d="M-1328.05 -23.75a19 24.15 0 1 0 38 0a19 24.15 0 1 0 -38 0zM-1319.25 -23.75a10.2 16.65 0 1 0 20.4 0a10.2 16.65 0 1 0 -20.4 0z"/></g>
<text class="l" transform="translate(162.50 0) rotate(-90) translate(-931.95 0) scale(0.9884 0.97)">leverage</text>
<text class="l" transform="translate(875.26 1575.70) scale(1.0218 0.97)">expected</text>
<text class="l" transform="translate(1179.07 1575.70) scale(0.9653 0.97)">annual</text>
<text class="l" transform="translate(1397.08 1575.70) scale(1.0310 0.97)">return</text>
<text class="t" transform="translate(479.32 159.50) scale(0.9364 0.97)">liquidation</text>
<text class="t" transform="translate(825.42 159.50) scale(0.9164 0.97)">likelihoods</text>
<text class="t" transform="translate(1177.20 159.50) scale(0.9000 0.97)">across</text>
<text class="t" transform="translate(1393.23 159.50) scale(0.9531 0.97)">leverage</text>
<text class="t" transform="translate(1680.14 159.50) scale(0.9316 0.97)">and</text>
<text class="t" transform="translate(1811.18 159.50) scale(0.9116 0.97)">alpha</text>
</svg>
</body></html>
